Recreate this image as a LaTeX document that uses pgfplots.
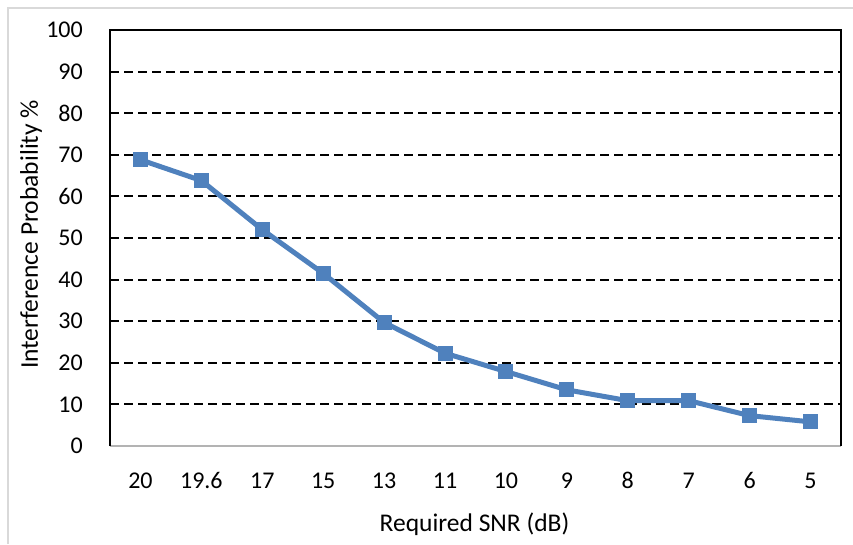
\documentclass[border=0pt]{standalone}
\usepackage{pgfplots}
\pgfplotsset{compat=1.18}
\usepackage{fontspec}
\setmainfont{Carlito}

\definecolor{seriesblue}{HTML}{4F81BD}
\definecolor{framegray}{HTML}{D9D9D9}
\definecolor{baseaxis}{HTML}{B3B3B3}

\newcommand{\chartfont}{\fontsize{24}{29}\selectfont}
\newcommand{\labelfont}{\fontsize{25.5}{30}\selectfont}

\begin{document}
\begin{tikzpicture}[x=1pt,y=1pt]
  \useasboundingbox (0,0) rectangle (853,544);
  % chart area border
  \draw[framegray, line width=2pt] (8,0) -- (8,536) -- (853,536);
  \begin{axis}[
    at={(110pt,98pt)}, anchor=south west,
    scale only axis,
    width=731pt, height=416pt,
    xmin=-0.5, xmax=11.5,
    ymin=0, ymax=100,
    ytick={0,10,...,100},
    xtick={0,...,11},
    xticklabels={20,19.6,17,15,13,11,10,9,8,7,6,5},
    major tick length=0pt,
    axis line style={draw=none},
    ymajorgrids,
    y grid style={black, line width=2pt, dash pattern=on 9pt off 5pt},
    /pgf/number format/assume math mode=true,
    tick label style={font=\chartfont},
    xticklabel style={anchor=base, yshift=-42pt},
    yticklabel style={anchor=east, inner sep=0pt, xshift=-27pt},
    xlabel={Required SNR (dB)},
    ylabel={Interference Probability \%},
    every axis x label/.style={at={(axis description cs:0.4986,-0.2048)}, anchor=base, font=\labelfont},
    every axis y label/.style={at={(axis description cs:-0.0985,0.5084)}, anchor=base, rotate=90, font=\labelfont},
    clip=false,
  ]
    % plot-area frame: dark on three sides, light baseline
    \draw[baseaxis, line width=2pt] (rel axis cs:0,0) -- (rel axis cs:1,0);
    \draw[black, line width=1.5pt] (rel axis cs:0,0) -- (rel axis cs:0,1) -- (rel axis cs:1,1) -- (rel axis cs:1,0);
    \addplot[seriesblue, line width=5pt, mark=square*, mark size=7pt,
             mark options={fill=seriesblue, draw=seriesblue, line width=1pt}]
      coordinates {
        (0,68.8) (1,63.8) (2,52.0) (3,41.5) (4,29.7) (5,22.3)
        (6,17.9) (7,13.5) (8,10.9) (9,10.9) (10,7.3) (11,5.8)
      };
  \end{axis}
\end{tikzpicture}
\end{document}
